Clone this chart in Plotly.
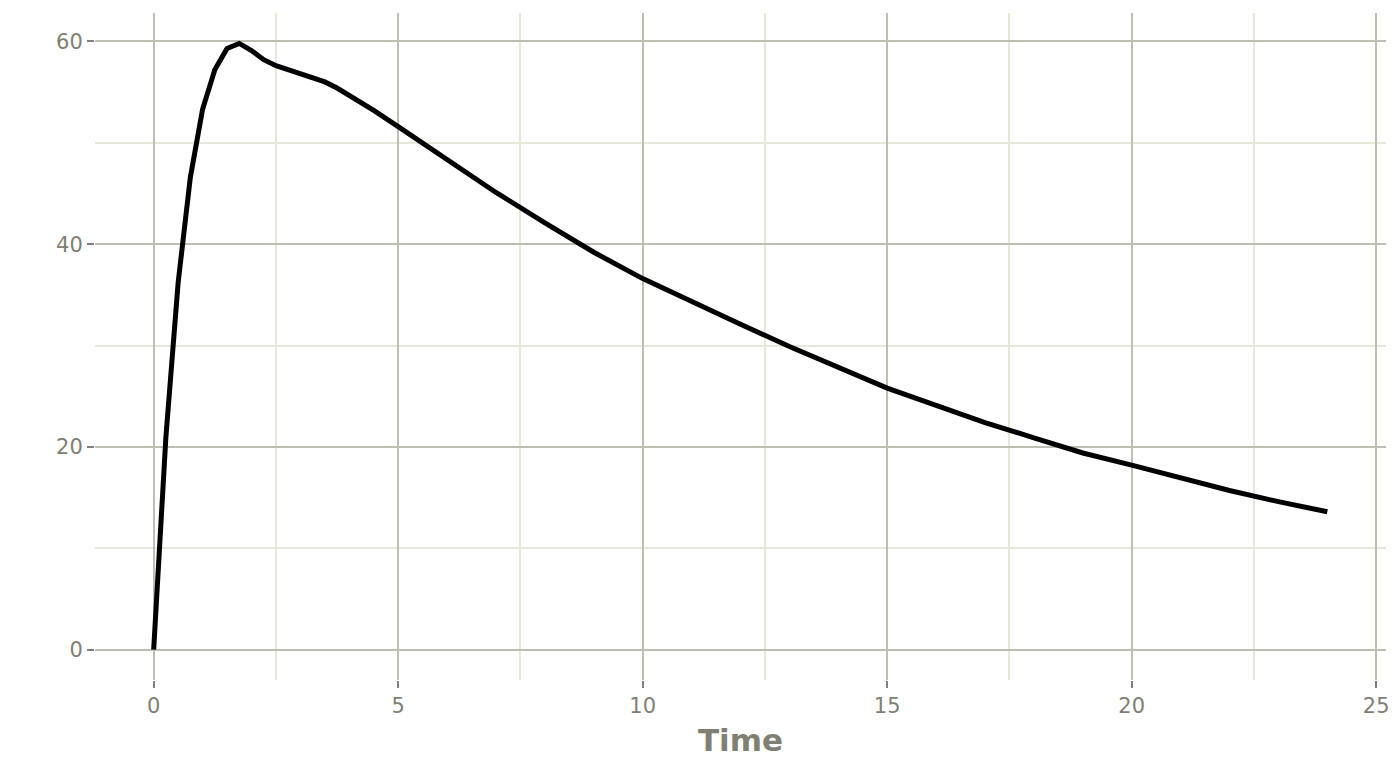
import plotly.graph_objects as go

time = [0, 0.25, 0.5, 0.75, 1.0, 1.25, 1.5, 1.75, 2.0, 2.25, 2.5, 2.75, 3.0, 3.25,
        3.5, 3.75, 4.0, 4.5, 5, 6, 7, 8, 9, 10, 11, 12, 13, 14, 15, 16, 17, 18,
        19, 20, 21, 22, 23, 24]
conc = [0, 21.0, 36.2, 46.6, 53.3, 57.2, 59.3, 59.8, 59.1, 58.2, 57.6, 57.2, 56.9, 56.5,
        56.0, 55.4, 54.7, 53.2, 51.6, 48.3, 45.1, 42.1, 39.2, 36.6, 34.3, 32.1, 29.9, 27.8,
        25.8, 24.1, 22.4, 20.9, 19.4, 18.2, 16.9, 15.7, 14.6, 13.6]

x_ticks = [0, 5, 10, 15, 20, 25]
y_ticks = [0, 20, 40, 60]

major = "#BEBEB2"
minor = "#E8E8DA"
textc = "#7F7F73"

fig = go.Figure()
fig.add_trace(go.Scatter(x=time, y=conc, mode="lines",
                         line=dict(color="black", width=5), showlegend=False,
                         hoverinfo="skip"))

fig.update_layout(
    width=1392, height=760,
    margin=dict(l=87, r=14, t=5, b=88),
    paper_bgcolor="white", plot_bgcolor="white",
    font=dict(family="DejaVu Sans", color=textc, size=21),
)
fig.update_xaxes(
    range=[-1.2, 25.2], tickvals=x_ticks, ticktext=[str(v) for v in x_ticks],
    showgrid=True, gridcolor=major, gridwidth=2, zeroline=False, showline=False,
    ticks="outside", ticklen=7, tickwidth=2, tickcolor="#7F7F7F",
    tickfont=dict(size=21, color=textc),
    minor=dict(tickvals=[2.5, 7.5, 12.5, 17.5, 22.5], showgrid=True, gridcolor=minor, gridwidth=2, ticks=""),
    title=dict(text="<b>Time</b>", font=dict(size=31, color=textc), standoff=12),
)
fig.update_yaxes(
    range=[-2.99, 62.8], tickvals=y_ticks, ticktext=[str(v) for v in y_ticks],
    showgrid=True, gridcolor=major, gridwidth=2, zeroline=False, showline=False,
    ticks="outside", ticklen=7, tickwidth=2, tickcolor="#7F7F7F",
    tickfont=dict(size=21, color=textc),
    minor=dict(tickvals=[10, 30, 50], showgrid=True, gridcolor=minor, gridwidth=2, ticks=""),
)

fig.write_html("out.html")
